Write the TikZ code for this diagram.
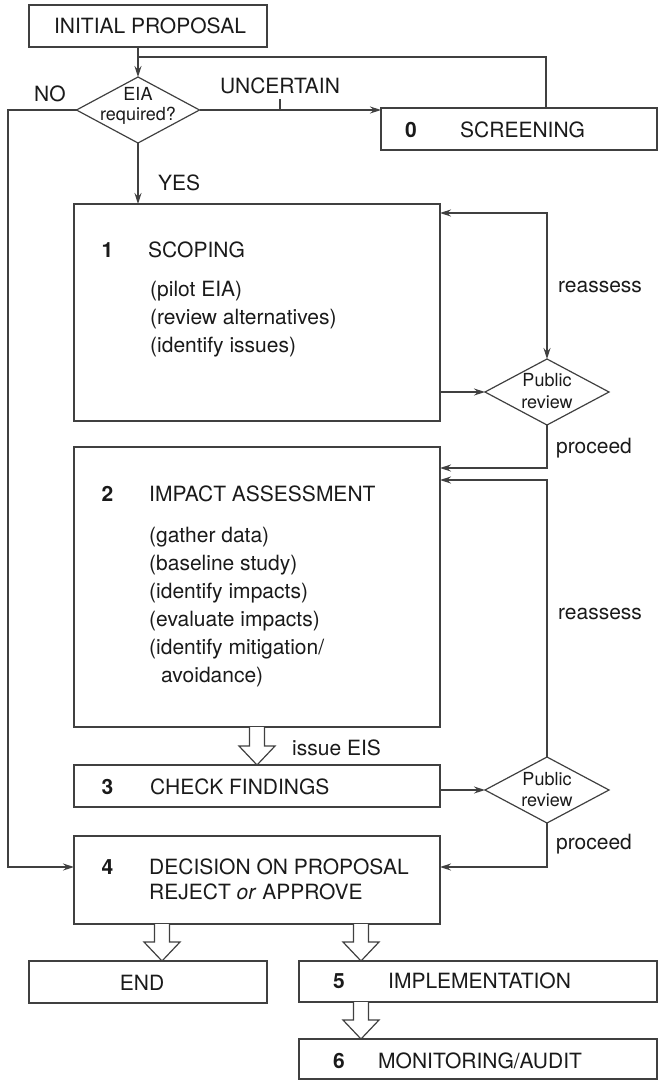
\documentclass[tikz,border=0pt]{standalone}
\usepackage{fontspec}
\setmainfont{TeX Gyre Heros}
\usetikzlibrary{shapes.geometric,arrows.meta,calc}

\definecolor{linegray}{HTML}{404040}
\definecolor{inkgray}{HTML}{1A1A1A}

\tikzset{
  stage/.style={draw=linegray, line width=1.2pt, inner sep=0pt, outer sep=0pt},
  review/.style={draw=linegray, line width=1.2pt, diamond, inner sep=0pt, outer sep=0pt,
    minimum width=124pt, minimum height=66pt},
  txt/.style={inner sep=0pt, text=inkgray, anchor=base, font=\fontsize{21}{28}\selectfont},
  num/.style={txt, font=\fontsize{21}{28}\selectfont\bfseries},
  head/.style={txt, anchor=base west, align=left},
  small/.style={inner sep=0pt, text=inkgray, anchor=base, align=center,
    font=\fontsize{18}{21}\selectfont},
  link/.style={draw=linegray, line width=1.2pt},
  fat/.style={draw=linegray, line width=1.2pt, fill=white,
    to path={let \p1=(\tikztostart), \p2=(\tikztotarget) in
      (\x1-7.5pt,\y1) -- (\x1-7.5pt,\y2+19pt) -- (\x1-18pt,\y2+19pt) -- (\x1,\y2)
      -- (\x1+18pt,\y2+19pt) -- (\x1+7.5pt,\y2+19pt) -- (\x1+7.5pt,\y1)}}
}

\begin{document}
\begin{tikzpicture}[x=1pt, y=-1pt, >={Stealth[length=11pt,width=7pt]}]
  \useasboundingbox (0,0) rectangle (658,1080);

  % stages
  \node[stage, minimum width=238, minimum height=42] (init) at (148,26) {};
  \node[stage, minimum width=276, minimum height=42] (screen) at (519,129) {};
  \node[stage, minimum width=366, minimum height=217] (scoping) at (257,312.5) {};
  \node[stage, minimum width=366, minimum height=280] (impact) at (257,587) {};
  \node[stage, minimum width=366, minimum height=42] (check) at (257,786) {};
  \node[stage, minimum width=366, minimum height=88] (decision) at (257,880) {};
  \node[stage, minimum width=238, minimum height=42] (finish) at (148,982) {};
  \node[stage, minimum width=358, minimum height=41] (impl) at (478,981.5) {};
  \node[stage, minimum width=358, minimum height=40] (monitor) at (478,1059) {};

  % decisions
  \node[review, minimum width=123] (eia) at (138,110) {};
  \node[review] (pr1) at (547,392) {};
  \node[review] (pr2) at (547,790) {};

  % texts in the stages (a node of several lines sits on its last line)
  \node[txt] (inittext) at (150,33) {INITIAL PROPOSAL};
  \node[num] (n0) at (411,137) {0};
  \node[head] (screentext) at (460,137) {SCREENING};
  \node[num] (n1) at (107.5,257) {1};
  \node[head] (scopingtext) at (148,257) {SCOPING};
  \node[head] (scopinglist) at (150,352) {(pilot EIA)\\(review alternatives)\\(identify issues)};
  \node[num] (n2) at (107.5,501.5) {2};
  \node[head] (impacttext) at (149,501.5) {IMPACT ASSESSMENT};
  \node[head] (impactlist) at (149,682) {(gather data)\\(baseline study)\\(identify impacts)\\(evaluate impacts)\\(identify mitigation/\\\hspace*{12pt}avoidance)};
  \node[num] (n3) at (107.5,794) {3};
  \node[head] (checktext) at (150,794) {CHECK FINDINGS};
  \node[num] (n4) at (107.5,874) {4};
  \node[head, font=\fontsize{21}{25}\selectfont] (decisiontext) at (149,899) {DECISION ON PROPOSAL\\REJECT \textit{or} APPROVE};
  \node[txt] (finishtext) at (142,990) {END};
  \node[num] (n5) at (339,988) {5};
  \node[head] (impltext) at (388,988) {IMPLEMENTATION};
  \node[num] (n6) at (339,1068) {6};
  \node[head] (monitortext) at (378,1068) {MONITORING/AUDIT};

  % texts in the decisions
  \node[small, font=\fontsize{18}{20}\selectfont] (eiatext) at (138,120) {EIA\\required?};
  \node[small, font=\fontsize{18}{21.5}\selectfont] (pr1text) at (547,408) {Public\\review};
  \node[small, font=\fontsize{18}{21.5}\selectfont] (pr2text) at (547,806.5) {Public\\review};

  % labels
  \node[txt] (no) at (50,101.5) {NO};
  \node[txt] (uncertain) at (280,93) {UNCERTAIN};
  \node[head] (yes) at (158,190.5) {YES};
  \node[txt] (reassess1) at (600,292) {reassess};
  \node[txt] (proceed1) at (594,453) {proceed};
  \node[txt] (reassess2) at (600,619) {reassess};
  \node[head] (issue) at (292,755) {issue EIS};
  \node[txt] (proceed2) at (594,849) {proceed};

  \coordinate (join) at (138,57);
  \coordinate (fb) at (546,57);
  \coordinate (tick) at (280,99);
  \coordinate (nocorner) at (8,867);
  \coordinate (ra1) at (547,213);
  \coordinate (pc1) at (547,468);
  \coordinate (ra2) at (547,480);
  \coordinate (pc2) at (547,867);
  \coordinate (toend) at (162,0);
  \coordinate (toimpl) at (361,0);

  % connectors
  \draw[link, ->] (init.south -| eia) -- (eia.north);
  \draw[link] (screen.north -| fb) -- (fb) -- (join);
  \draw[link, ->] (eia.east) -- (eia.east -| screen.west);
  \draw[link] (tick) -- (tick |- eia.east);
  \draw[link, ->] (eia.west) -| (nocorner) -- (nocorner -| decision.west);
  \draw[link, ->] (eia.south) -- (eia.south |- scoping.north);
  \draw[link, <->] (scoping.east |- ra1) -- (ra1) -- (pr1.north);
  \draw[link, ->] (scoping.east |- pr1.west) -- (pr1.west);
  \draw[link, ->] (pr1.south) -- (pc1) -- (pc1 -| impact.east);
  \draw[link, ->] (pr2.north) -- (ra2) -- (ra2 -| impact.east);
  \draw[link, ->] (check.east |- pr2.west) -- (pr2.west);
  \draw[link, ->] (pr2.south) -- (pc2) -- (pc2 -| decision.east);

  \draw[fat] (impact.south) to (check.north);
  \draw[fat] (decision.south -| toend) to (finish.north -| toend);
  \draw[fat] (decision.south -| toimpl) to (impl.north -| toimpl);
  \draw[fat] (impl.south -| toimpl) to (monitor.north -| toimpl);
\end{tikzpicture}
\end{document}
